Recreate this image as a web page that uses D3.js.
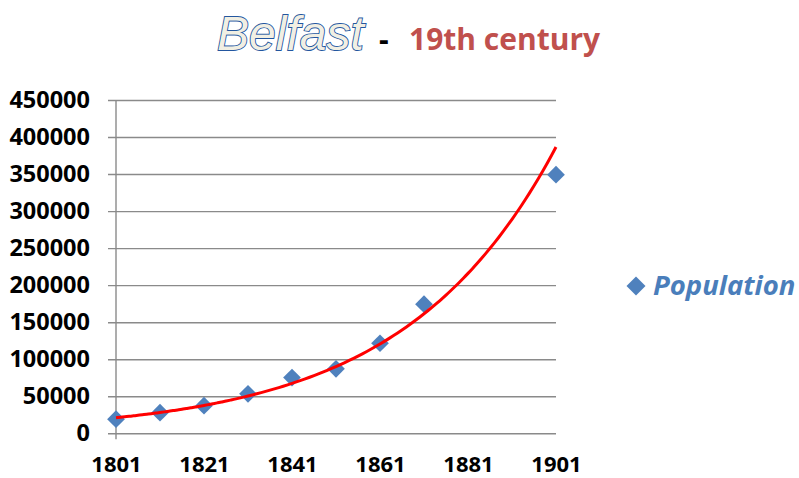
<!DOCTYPE html>
<html>
<head>
<meta charset="utf-8">
<script src="https://cdn.jsdelivr.net/npm/d3@7"></script>
<style>
  body { margin: 0; background: #fff; }
  svg { display: block; }
</style>
</head>
<body>
<div id="chart"></div>
<script>
// census years and population
var years = [1801, 1811, 1821, 1831, 1841, 1851, 1861, 1871, 1901];
var population = [19000, 27800, 37300, 53300, 75300, 87100, 121600, 174400, 349200];
var xTicks = [1801, 1821, 1841, 1861, 1881, 1901];
var yTicks = [0, 50000, 100000, 150000, 200000, 250000, 300000, 350000, 400000, 450000];
var seriesName = "Population";

var width = 799, height = 478;
var margin = {top: 100, right: 243, bottom: 45, left: 116};

var svg = d3.select("#chart").append("svg")
    .attr("width", width)
    .attr("height", height);

var x = d3.scaleLinear()
    .domain([1801, 1901])
    .range([margin.left, width - margin.right]);

var y = d3.scaleLinear()
    .domain([0, 450000])
    .range([height - margin.bottom + 0.3, margin.top]);

var labelFont = "'Open Sans', 'Liberation Sans', sans-serif";

// gridlines + y axis ticks
var yAxis = d3.axisLeft(y)
    .tickValues(yTicks)
    .tickSize(-(x(1901) - x(1801)))
    .tickSizeOuter(0)
    .tickFormat(d3.format("d"));

var gy = svg.append("g")
    .attr("transform", "translate(" + margin.left + ",0)")
    .call(yAxis);
gy.select(".domain").remove();
gy.selectAll(".tick line")
    .attr("x1", -8)
    .attr("stroke", "#8a8a8a")
    .attr("stroke-width", 1.4);
gy.selectAll(".tick text")
    .attr("fill", "#000")
    .style("font-family", labelFont)
    .style("font-weight", "700")
    .style("font-size", "23.5px")
    .attr("x", -26);

// vertical axis line
svg.append("line")
    .attr("x1", x(1801)).attr("x2", x(1801))
    .attr("y1", y(450000)).attr("y2", y(0) + 6)
    .attr("stroke", "#8a8a8a")
    .attr("stroke-width", 1.4);

// x axis labels
var xAxis = d3.axisBottom(x)
    .tickValues(xTicks)
    .tickSize(0)
    .tickPadding(23)
    .tickFormat(d3.format("d"));

var gx = svg.append("g")
    .attr("transform", "translate(0," + y(0) + ")")
    .call(xAxis);
gx.select(".domain").remove();
gx.selectAll(".tick text")
    .attr("fill", "#000")
    .style("font-family", labelFont)
    .style("font-weight", "700")
    .style("font-size", "22px");

// exponential trend line (least squares on ln(pop))
var xs = years.map(function(d) { return d - 1801; });
var ls = population.map(function(d) { return Math.log(d); });
var mx = d3.mean(xs), ml = d3.mean(ls);
var sxy = d3.sum(xs, function(d, i) { return (d - mx) * (ls[i] - ml); });
var sxx = d3.sum(xs, function(d) { return (d - mx) * (d - mx); });
var b = sxy / sxx, a = ml - b * mx;
var trendYears = d3.range(1801, 1901.01, 1);

var line = d3.line()
    .x(function(d) { return x(d); })
    .y(function(d) { return y(Math.exp(a + b * (d - 1801))); })
    .curve(d3.curveMonotoneX);

// markers
var diamond = d3.symbol().type(d3.symbolDiamond2).size(200);

svg.append("g").selectAll("path")
    .data(years)
    .enter()
    .append("path")
    .attr("d", diamond)
    .attr("transform", function(d, i) { return "translate(" + x(d) + "," + y(population[i]) + ")"; })
    .attr("fill", "#4f81bd");

svg.append("path")
    .datum(trendYears)
    .attr("d", line)
    .attr("fill", "none")
    .attr("stroke", "#ff0000")
    .attr("stroke-width", 3);

// legend
var legend = svg.append("g")
    .attr("transform", "translate(636,286)");
legend.append("path")
    .attr("d", d3.symbol().type(d3.symbolDiamond2).size(230))
    .attr("fill", "#4f81bd");
legend.append("text")
    .attr("x", 17)
    .attr("y", 9)
    .attr("fill", "#4a7ebb")
    .style("font-family", labelFont)
    .style("font-weight", "700")
    .style("font-style", "italic")
    .style("font-size", "27.5px")
    .text(seriesName);

// title
var title = svg.append("g");
title.append("text")
    .attr("x", 217)
    .attr("y", 50)
    .attr("fill", "#f1efe3")
    .attr("stroke", "#23569f")
    .attr("stroke-width", 1.8)
    .attr("paint-order", "stroke")
    .style("font-family", "'Liberation Sans', sans-serif")
    .style("font-style", "italic")
    .style("font-size", "48px")
    .text("Belfast");
title.append("text")
    .attr("x", 379)
    .attr("y", 50)
    .attr("fill", "#000")
    .style("font-family", labelFont)
    .style("font-weight", "700")
    .style("font-size", "30px")
    .text("-");
title.append("text")
    .attr("x", 409)
    .attr("y", 50)
    .attr("fill", "#c0504d")
    .style("font-family", labelFont)
    .style("font-weight", "700")
    .style("font-size", "30px")
    .text("19th century");
</script>
</body>
</html>
